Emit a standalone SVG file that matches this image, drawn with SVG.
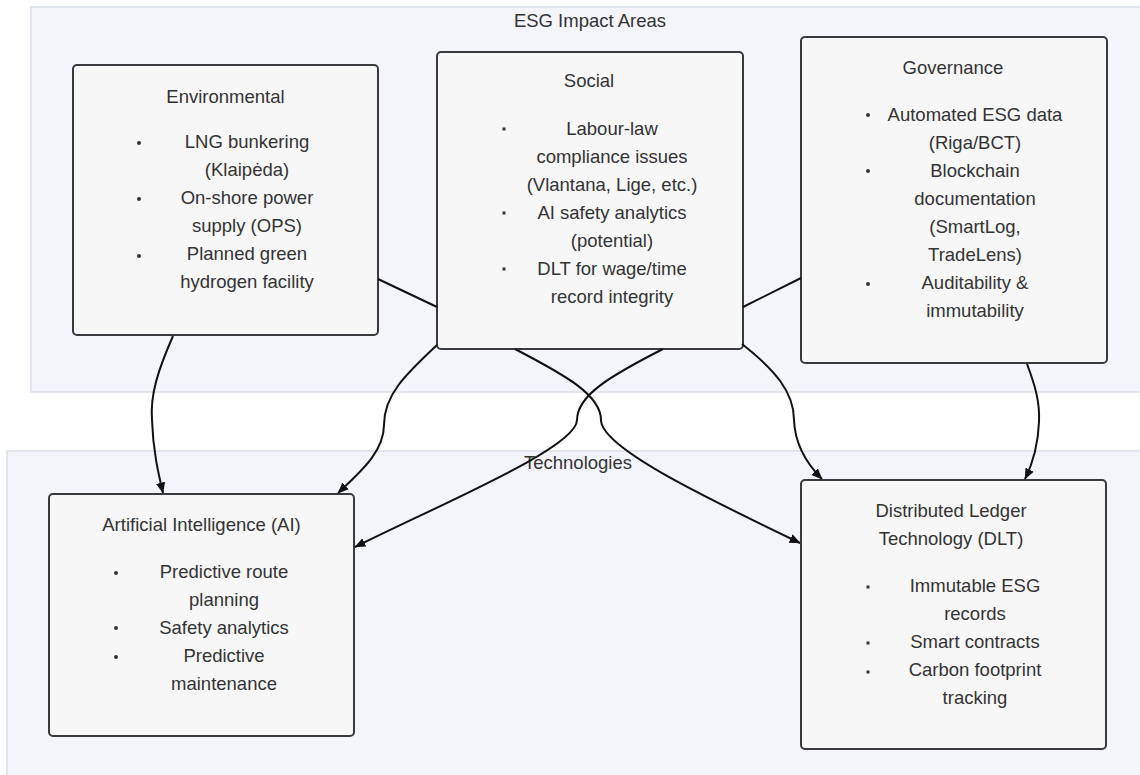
<svg xmlns="http://www.w3.org/2000/svg" width="1140" height="775" viewBox="0 0 1140 775">
<style>
.cluster{fill:#f3f5fa;stroke:#d9dfe8;stroke-width:1.5}
.box{fill:#f7f7f8;stroke:#383a3e;stroke-width:2}
text{font-family:"Liberation Sans",Arial,sans-serif;font-size:18.5px;fill:#333;text-anchor:middle}
.edge{fill:none;stroke:#111;stroke-width:2;marker-end:url(#arr)}
.dot{fill:#333}
</style>
<defs>
<marker id="arr" viewBox="0 0 10 10" refX="9.5" refY="5" markerWidth="11" markerHeight="11" markerUnits="userSpaceOnUse" orient="auto">
<path d="M0,0.8 L10,5 L0,9.2 z" fill="#111"/>
</marker>
</defs>
<rect width="1140" height="775" fill="#ffffff"/>
<g id="cluster-esg">
<rect class="cluster" x="31" y="7" width="1120" height="385"/>
<text x="590" y="27">ESG Impact Areas</text>
</g>
<g id="cluster-tech">
<rect class="cluster" x="7" y="451" width="1145" height="340"/>
<text x="578" y="469">Technologies</text>
</g>
<g id="environmental">
<rect class="box" x="73" y="65" width="305" height="270" rx="4"/>
<text x="225.5" y="103">Environmental</text>
<circle class="dot" cx="139" cy="143" r="2"/>
<circle class="dot" cx="139" cy="199" r="2"/>
<circle class="dot" cx="139" cy="256" r="2"/>
<text x="247" y="148">LNG bunkering</text>
<text x="247" y="176">(Klaipėda)</text>
<text x="247" y="204">On-shore power</text>
<text x="247" y="232">supply (OPS)</text>
<text x="247" y="260">Planned green</text>
<text x="247" y="288">hydrogen facility</text>
</g>
<g id="social">
<rect class="box" x="437" y="52" width="306" height="297" rx="4"/>
<text x="589" y="87">Social</text>
<rect class="dot" x="502.5" y="127.5" width="3" height="3"/>
<rect class="dot" x="502.5" y="211.5" width="3" height="3"/>
<rect class="dot" x="502.5" y="267.5" width="3" height="3"/>
<text x="612" y="135">Labour-law</text>
<text x="612" y="163">compliance issues</text>
<text x="612" y="191">(Vlantana, Lige, etc.)</text>
<text x="612" y="219">AI safety analytics</text>
<text x="612" y="247">(potential)</text>
<text x="612" y="275">DLT for wage/time</text>
<text x="612" y="303">record integrity</text>
</g>
<g id="governance">
<rect class="box" x="801" y="37" width="306" height="326" rx="4"/>
<text x="953" y="74">Governance</text>
<circle class="dot" cx="868" cy="115" r="2"/>
<circle class="dot" cx="868" cy="171" r="2"/>
<circle class="dot" cx="868" cy="284" r="2"/>
<text x="975" y="121">Automated ESG data</text>
<text x="975" y="149">(Riga/BCT)</text>
<text x="975" y="177">Blockchain</text>
<text x="975" y="205">documentation</text>
<text x="975" y="233">(SmartLog,</text>
<text x="975" y="261">TradeLens)</text>
<text x="975" y="289">Auditability &amp;</text>
<text x="975" y="317">immutability</text>
</g>
<g id="ai">
<rect class="box" x="49" y="494" width="305" height="242" rx="4"/>
<text x="201.5" y="531">Artificial Intelligence (AI)</text>
<circle class="dot" cx="116" cy="573" r="2"/>
<circle class="dot" cx="116" cy="628" r="2"/>
<circle class="dot" cx="116" cy="657" r="2"/>
<text x="224" y="578">Predictive route</text>
<text x="224" y="606">planning</text>
<text x="224" y="634">Safety analytics</text>
<text x="224" y="662">Predictive</text>
<text x="224" y="690">maintenance</text>
</g>
<g id="dlt">
<rect class="box" x="801" y="480" width="305" height="269" rx="4"/>
<text x="951" y="517">Distributed Ledger</text>
<text x="951" y="545">Technology (DLT)</text>
<rect class="dot" x="866.5" y="585.5" width="3" height="3"/>
<rect class="dot" x="866.5" y="641.5" width="3" height="3"/>
<rect class="dot" x="866.5" y="670.5" width="3" height="3"/>
<text x="975" y="592">Immutable ESG</text>
<text x="975" y="620">records</text>
<text x="975" y="648">Smart contracts</text>
<text x="975" y="676">Carbon footprint</text>
<text x="975" y="704">tracking</text>
</g>
<g id="connectors">
<path id="e-env-ai" class="edge" d="M173,336 C158,370 150,395 152,420 C153,450 158,472 163,493"/>
<path id="e-env-dlt" class="edge" d="M378,279 L437,307 M515,349 C565,375 601,395 601,420 C601,447 700,495 800,543"/>
<path id="e-gov-ai" class="edge" d="M801,278 L743,307 M663,349 C612,375 577,395 577,420 C577,447 450,500 355,547"/>
<path id="e-soc-ai" class="edge" d="M437,345 C405,375 384,395 384,425 C384,452 360,472 338,493"/>
<path id="e-soc-dlt" class="edge" d="M742,344 C775,370 794,392 794,420 C795,447 808,465 822,479"/>
<path id="e-gov-dlt" class="edge" d="M1027,364 C1035,385 1040,402 1039,422 C1038,447 1032,465 1025,479"/>
</g>
</svg>
